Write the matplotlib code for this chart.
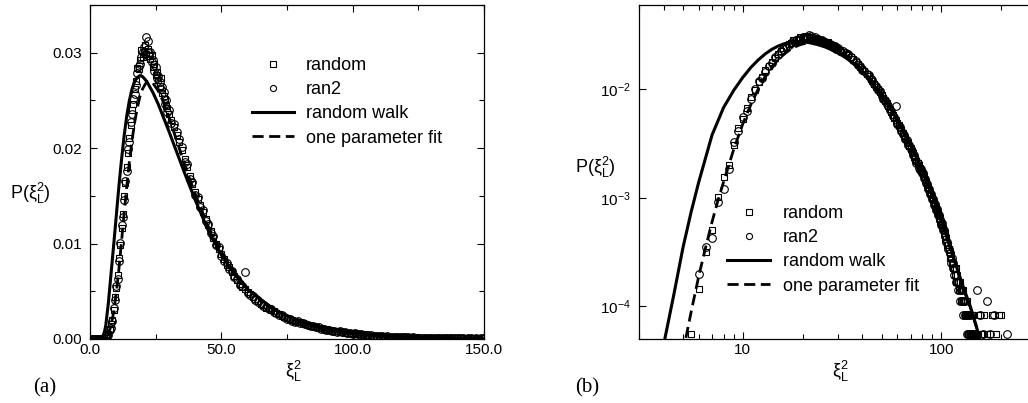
import numpy as np
import matplotlib
matplotlib.use("Agg")
import matplotlib.pyplot as plt
from matplotlib.legend_handler import HandlerLine2D
from matplotlib.ticker import MultipleLocator, NullLocator, LogLocator, FormatStrFormatter

plt.rcParams["font.family"] = ["Liberation Sans", "DejaVu Sans"]
plt.rcParams["mathtext.fontset"] = "custom"
plt.rcParams["mathtext.rm"] = "Liberation Sans"
plt.rcParams["mathtext.it"] = "Liberation Sans:italic"
plt.rcParams["mathtext.bf"] = "Liberation Sans:bold"

# ==========================
# Histogram data (read off)
# ==========================
# bins 0.5 ... 30.0, step 0.5
random_fine = [
    0, 0, 0, 0, 0, 0, 0, 0, 0, 0,
    5.6e-5, 1.44e-4, 3.2e-4, 5.1e-4, 1.02e-3, 1.56e-3, 2.0e-3, 3.07e-3, 4.4e-3, 5.3e-3,
    6.7e-3, 8.5e-3, 9.8e-3, 0.0116, 0.0131, 0.0150, 0.0163, 0.0180, 0.0195, 0.0211,
    0.0224, 0.0240, 0.0246, 0.0262, 0.0270, 0.0284, 0.0283, 0.0292, 0.0303, 0.0296,
    0.0301, 0.0308, 0.0299, 0.0304, 0.0297, 0.0293, 0.0298, 0.0285, 0.0288, 0.0277,
    0.0280, 0.0271, 0.0265, 0.0274, 0.0258, 0.0255, 0.0251, 0.0244, 0.0242, 0.0236,
]
ran2_fine = [
    0, 0, 0, 0, 0, 0, 0, 0, 0, 0,
    0, 2.0e-4, 3.5e-4, 4.3e-4, 9.2e-4, 1.2e-3, 1.84e-3, 3.3e-3, 4.1e-3, 5.6e-3,
    6.3e-3, 8.2e-3, 0.0101, 0.0119, 0.0128, 0.0146, 0.0166, 0.0176, 0.0199, 0.0206,
    0.0227, 0.0236, 0.0252, 0.0257, 0.0266, 0.0279, 0.0286, 0.0288, 0.0296, 0.0301,
    0.0306, 0.0299, 0.0316, 0.0312, 0.0300, 0.0301, 0.0290, 0.0292, 0.0281, 0.0285,
    0.0273, 0.0276, 0.0269, 0.0262, 0.0264, 0.0259, 0.0246, 0.0250, 0.0238, 0.0240,
]
# bins 31 ... 100, step 1
random_mid = [
    0.0229, 0.0222, 0.0214, 0.0206, 0.0198, 0.0189, 0.0180, 0.0171, 0.0162, 0.0154,
    0.0147, 0.0140, 0.0133, 0.0126, 0.0119, 0.0113, 0.0106, 0.0100, 0.0094, 0.0089,
    0.0084, 0.0078, 0.0075, 0.0070, 0.0066, 0.0062, 0.0058, 0.0055, 0.0052, 0.0049,
    0.0047, 0.0044, 0.0042, 0.0040, 0.0037, 0.0036, 0.0033, 0.0032, 0.0030, 0.0029,
    0.0027, 0.0026, 0.0024, 0.0023, 0.0022, 0.0021, 0.0020, 0.0019, 0.0018, 0.00175,
    0.00165, 0.00157, 0.00147, 0.00141, 0.00132, 0.00126, 0.00118, 0.00112, 0.00106, 0.00100,
    0.00095, 0.00089, 0.00084, 0.00081, 0.00076, 0.00072, 0.00068, 0.00065, 0.00061, 0.00058,
]
ran2_mid = [
    0.0226, 0.0225, 0.0217, 0.0210, 0.0201, 0.0186, 0.0183, 0.0168, 0.0165, 0.0151,
    0.0149, 0.0138, 0.0135, 0.0124, 0.0121, 0.0111, 0.0108, 0.0098, 0.0096, 0.0087,
    0.0082, 0.0080, 0.0073, 0.0071, 0.0065, 0.0063, 0.0057, 0.0056, 0.0070, 0.0048,
    0.0046, 0.0045, 0.0041, 0.0039, 0.0038, 0.0035, 0.0034, 0.0031, 0.0031, 0.0028,
    0.0027, 0.0025, 0.0025, 0.0023, 0.0021, 0.0021, 0.0019, 0.0018, 0.00185, 0.00170,
    0.00168, 0.00152, 0.00150, 0.00138, 0.00135, 0.00122, 0.00121, 0.00109, 0.00108, 0.00097,
    0.00097, 0.00086, 0.00087, 0.00077, 0.00079, 0.00069, 0.00070, 0.00062, 0.00063, 0.00056,
]
# tail, bins 101 ... 150: counts per bin (one count = COUNT)
COUNT = 2.8e-5
random_tail_n = [
    20, 19, 17, 17, 15, 15, 13, 13, 12, 11,
    10, 10, 9, 9, 8, 8, 7, 8, 6, 7,
    6, 6, 5, 6, 5, 4, 5, 4, 5, 4,
    3, 4, 3, 4, 3, 2, 3, 3, 2, 3,
    2, 3, 2, 2, 3, 2, 2, 1, 2, 2,
]
ran2_tail_n = [
    21, 18, 18, 16, 16, 14, 14, 12, 12, 11,
    11, 9, 10, 8, 9, 7, 8, 6, 7, 6,
    6, 5, 6, 4, 5, 5, 4, 4, 3, 4,
    4, 3, 3, 2, 3, 3, 2, 2, 3, 2,
    2, 2, 1, 2, 2, 1, 2, 1, 2, 2,
]
# far tail (only visible on the log plot)
random_far_x = [153, 156, 160, 164, 169, 175, 181, 188, 195, 200]
random_far_n = [2, 3, 2, 3, 2, 2, 3, 2, 3, 3]
ran2_far_x = [152, 157, 163, 169, 176, 184, 215]
ran2_far_n = [5, 3, 2, 4, 2, 3, 2]

# random walk prediction
rw_x = [0, 2, 3.5, 4.0, 4.5, 5.0, 5.5, 6.0, 7.0, 8.0, 9.0, 10, 11, 12, 13, 14, 15, 16, 17, 18,
        19, 20, 21, 22, 24, 26, 28, 30, 33, 36, 40, 45, 50, 55, 60, 70, 80, 90, 100, 110,
        120, 130, 140, 150, 160]
rw_y = [0, 0, 8e-6, 4.5e-5, 1.3e-4, 3.5e-4, 7.5e-4, 1.4e-3, 3.8e-3, 6.8e-3, 9.8e-3, 0.0129,
        0.0160, 0.0188, 0.0213, 0.0234, 0.0250, 0.0262, 0.0270, 0.0274, 0.0276, 0.0275, 0.0272,
        0.0268, 0.0258, 0.0246, 0.0232, 0.0218, 0.0196, 0.0174, 0.0146, 0.0114, 0.0088, 0.0068,
        0.0052, 0.0031, 0.00180, 0.00105, 6.2e-4, 3.7e-4, 2.25e-4, 1.45e-4, 1.0e-4, 6.6e-5, 4.2e-5]

# one parameter fit
fit_x = [0, 3, 4.5, 5.0, 5.5, 6.0, 6.5, 7.0, 7.5, 8.0, 9.0, 10, 11, 12, 13, 14, 15, 16, 17, 18,
         19, 20, 21, 22, 23, 24, 26, 28, 30, 33, 36, 40, 45, 50, 55, 60, 70, 80, 90, 100,
         110, 120, 130, 140, 150, 160]
fit_y = [0, 0, 5e-6, 3.8e-5, 9e-5, 1.9e-4, 3.5e-4, 6e-4, 9.5e-4, 1.4e-3, 2.8e-3, 4.8e-3, 7.3e-3,
         0.0102, 0.0132, 0.0160, 0.0186, 0.0208, 0.0227, 0.0242, 0.0254, 0.0262, 0.0267, 0.0270,
         0.0270, 0.0268, 0.0260, 0.0248, 0.0233, 0.0208, 0.0183, 0.0152, 0.0118, 0.0091, 0.0070,
         0.0053, 0.0031, 0.00180, 0.00104, 6.1e-4, 3.6e-4, 2.2e-4, 1.4e-4, 9.8e-5, 6.5e-5, 4.1e-5]

labels = ["random", "ran2", "random walk", "one parameter fit"]

# ==========
# Assemble
# ==========
x_fine = np.arange(1, 61) * 0.5
x_mid = np.arange(31, 101)
x_tail = np.arange(101, 151)

xi_random = np.concatenate([x_fine, x_mid, x_tail, random_far_x])
p_random = np.concatenate([random_fine, random_mid,
                           np.array(random_tail_n) * COUNT, np.array(random_far_n) * COUNT])
xi_ran2 = np.concatenate([x_fine, x_mid, x_tail, ran2_far_x])
p_ran2 = np.concatenate([ran2_fine, ran2_mid,
                         np.array(ran2_tail_n) * COUNT, np.array(ran2_far_n) * COUNT])


class MarkerAtEnd(HandlerLine2D):
    # marker sits at the right end of the handle, as in the original legend
    def get_xdata(self, legend, xdescent, ydescent, width, height, fontsize):
        xdata, _ = super().get_xdata(legend, xdescent, ydescent, width, height, fontsize)
        return xdata, np.array([-xdescent + width - 0.1 * fontsize])


def draw(ax, logy):
    pr, p2 = p_random, p_ran2
    ry, fy = np.array(rw_y, float), np.array(fit_y, float)
    if logy:
        pr = np.where(pr > 0, pr, np.nan)
        p2 = np.where(p2 > 0, p2, np.nan)
        ry = np.where(ry > 0, ry, np.nan)
        fy = np.where(fy > 0, fy, np.nan)
    h1, = ax.plot(xi_random, pr, "s", ms=5, mfc="none", mec="black", mew=0.8, ls="none")
    h2, = ax.plot(xi_ran2, p2, "o", ms=5.5, mfc="none", mec="black", mew=0.8, ls="none")
    h3, = ax.plot(rw_x, ry, "-", color="black", lw=2.2)
    h4, = ax.plot(fit_x, fy, "--", color="black", lw=2.0, dashes=(4, 2))
    return [h1, h2, h3, h4]


def add_legend(ax, hs, x0, y0, hlen):
    ax.legend(hs, labels, loc="upper left", bbox_to_anchor=(x0 / W, 1 - y0 / H),
              bbox_transform=fig.transFigure, frameon=False, fontsize=13,
              handlelength=hlen, handletextpad=0.7, labelspacing=0.4, borderpad=0,
              borderaxespad=0, markerscale=0.8,
              handler_map={hs[0]: MarkerAtEnd(numpoints=1), hs[1]: MarkerAtEnd(numpoints=1)})


fig = plt.figure(figsize=(10.28, 4.03), dpi=100)
W, H = 1028.0, 403.0
ax1 = fig.add_axes([90 / W, 64 / H, 394 / W, 334 / H])
ax2 = fig.add_axes([639 / W, 64 / H, 397 / W, 334 / H])

for ax in (ax1, ax2):
    for s in ax.spines.values():
        s.set_linewidth(0.9)

# (a) linear
hs = draw(ax1, False)
ax1.set_xlim(0, 150)
ax1.set_ylim(0, 0.035)
ax1.xaxis.set_major_locator(MultipleLocator(50))
ax1.xaxis.set_minor_locator(MultipleLocator(25))
ax1.yaxis.set_major_locator(MultipleLocator(0.01))
ax1.yaxis.set_minor_locator(MultipleLocator(0.005))
ax1.xaxis.set_major_formatter(FormatStrFormatter("%.1f"))
ax1.yaxis.set_major_formatter(FormatStrFormatter("%.2f"))
ax1.tick_params(which="both", direction="in", top=True, right=True, labelsize=11, width=0.8)
ax1.tick_params(which="major", length=5)
ax1.tick_params(which="minor", length=3.5)
ax1.tick_params(axis="x", pad=3)
ax1.tick_params(axis="y", pad=6)
add_legend(ax1, hs, 252, 57, 2.3)

# (b) log-log
hs = draw(ax2, True)
ax2.set_xscale("log")
ax2.set_yscale("log")
ax2.set_xlim(3, 300)
ax2.set_ylim(5e-5, 0.06)
ax2.set_xticks([10, 100], ["10", "100"])
ax2.xaxis.set_minor_locator(LogLocator(base=10, subs=np.arange(2, 10)))
ax2.xaxis.set_minor_formatter(plt.NullFormatter())
ax2.yaxis.set_major_locator(LogLocator(base=10))
ax2.yaxis.set_minor_locator(NullLocator())
ax2.tick_params(which="both", direction="in", top=True, right=True, labelsize=11, width=0.8)
ax2.tick_params(which="major", length=5)
ax2.tick_params(which="minor", length=3.5)
ax2.tick_params(axis="x", pad=3)
ax2.tick_params(axis="y", pad=6)
add_legend(ax2, hs, 727, 205, 2.4)

# axis labels and panel tags
ylab = r"P($\mathregular{\xi_L^2}$)"
xlab = r"$\mathregular{\xi_L^2}$"
fig.text(10 / W, 1 - 193 / H, ylab, ha="left", va="center", fontsize=13)
fig.text(575 / W, 1 - 167 / H, ylab, ha="left", va="center", fontsize=13)
fig.text(293 / W, 1 - 371 / H, xlab, ha="center", va="center", fontsize=13)
fig.text(840 / W, 1 - 371 / H, xlab, ha="center", va="center", fontsize=13)
fig.text(33 / W, 1 - 388 / H, "(a)", ha="left", va="center", fontsize=15, family="Liberation Serif")
fig.text(575 / W, 1 - 388 / H, "(b)", ha="left", va="center", fontsize=15, family="Liberation Serif")

fig.savefig("out.png", dpi=100)
